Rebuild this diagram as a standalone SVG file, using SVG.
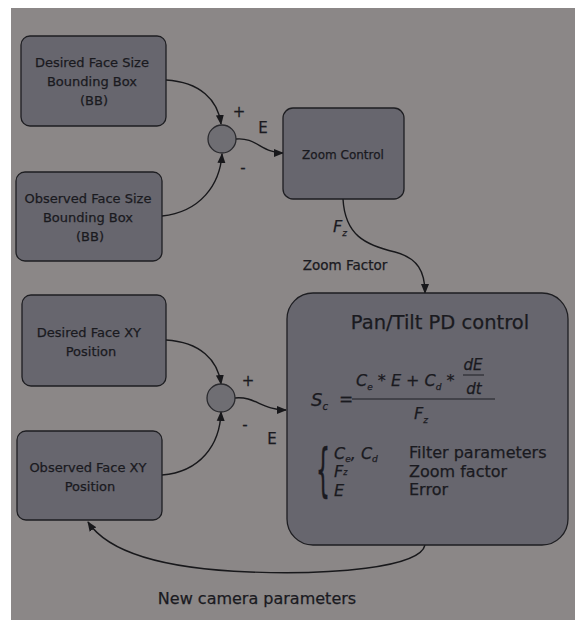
<svg xmlns="http://www.w3.org/2000/svg" width="575" height="620" viewBox="0 0 575 620">
  <style>
    .box { fill: #67666e; stroke: #1e1e22; stroke-width: 1.3; }
    .sum { fill: #6f6e73; stroke: #2a2a2e; stroke-width: 1.3; }
    .lbl { font-family: "DejaVu Sans", Verdana, sans-serif; fill: #1a1a1f; stroke: #1a1a1f; stroke-width: 0.25; }
    .math { font-family: "DejaVu Sans", Verdana, sans-serif; font-style: italic; fill: #1a1a1f; stroke: #1a1a1f; stroke-width: 0.25; }
    .edge { fill: none; stroke: #18181b; stroke-width: 1.4; }
  </style>
  <defs>
    <marker id="arrow" markerUnits="userSpaceOnUse" markerWidth="10" markerHeight="10" viewBox="0 0 10 10" refX="9" refY="5" orient="auto">
      <path d="M0,1 L10,5 L0,9 z" fill="#18181b"/>
    </marker>
  </defs>

  <!-- page -->
  <rect x="0" y="0" width="575" height="620" fill="#ffffff"/>
  <rect x="11" y="8" width="564" height="612" fill="#8b8787"/>

  <!-- connectors -->
  <g id="connectors">
    <path class="edge" d="M166,80 C200,82 218,100 221,124" marker-end="url(#arrow)"/>
    <path class="edge" d="M162,216 C200,212 220,185 222,154" marker-end="url(#arrow)"/>
    <path class="edge" d="M236,139 C256,137 262,153 283,153" marker-end="url(#arrow)"/>
    <path class="edge" d="M343,199 C345,235 365,245 395,252 C418,258 425,272 425,293" marker-end="url(#arrow)"/>
    <path class="edge" d="M166,340 C200,342 218,360 221,384" marker-end="url(#arrow)"/>
    <path class="edge" d="M162,475 C200,472 220,445 221,412" marker-end="url(#arrow)"/>
    <path class="edge" d="M235,398 C255,396 262,410 286,410" marker-end="url(#arrow)"/>
    <path class="edge" d="M425,545 C420,568 330,575 250,572 C170,569 110,555 88,522" marker-end="url(#arrow)"/>
  </g>

  <!-- connector labels -->
  <g id="edge-labels">
    <text class="lbl" x="239" y="117" font-size="15" text-anchor="middle">+</text>
    <text class="lbl" x="243" y="173" font-size="15" text-anchor="middle">-</text>
    <text class="lbl" x="263" y="133" font-size="15" text-anchor="middle">E</text>
    <text class="math" x="333" y="232" font-size="16">F<tspan font-size="9" dy="4">z</tspan></text>
    <text class="lbl" x="345" y="270" font-size="13.5" text-anchor="middle">Zoom Factor</text>
    <text class="lbl" x="248" y="386" font-size="15" text-anchor="middle">+</text>
    <text class="lbl" x="245" y="430" font-size="15" text-anchor="middle">-</text>
    <text class="lbl" x="272" y="444" font-size="15" text-anchor="middle">E</text>
    <text class="lbl" x="257" y="604" font-size="16" text-anchor="middle">New camera parameters</text>
  </g>

  <g id="desired-size">
    <rect class="box" x="21" y="36" width="145" height="90" rx="9"/>
    <text class="lbl" font-size="13" text-anchor="middle">
      <tspan x="94" y="67">Desired Face Size</tspan>
      <tspan x="94" y="86">Bounding Box</tspan>
      <tspan x="94" y="105">(BB)</tspan>
    </text>
  </g>

  <g id="observed-size">
    <rect class="box" x="16" y="172" width="146" height="89" rx="9"/>
    <text class="lbl" font-size="13" text-anchor="middle">
      <tspan x="90" y="203">Observed Face Size</tspan>
      <tspan x="90" y="222">Bounding Box</tspan>
      <tspan x="90" y="241">(BB)</tspan>
    </text>
  </g>

  <g id="sum-size">
    <circle class="sum" cx="222" cy="139" r="14"/>
  </g>

  <g id="zoom-control">
    <rect class="box" x="283" y="108" width="121" height="91" rx="10"/>
    <text class="lbl" x="343" y="159" font-size="12" text-anchor="middle">Zoom Control</text>
  </g>

  <g id="desired-xy">
    <rect class="box" x="22" y="295" width="144" height="91" rx="9"/>
    <text class="lbl" font-size="13" text-anchor="middle">
      <tspan x="91" y="337">Desired Face XY</tspan>
      <tspan x="91" y="356">Position</tspan>
    </text>
  </g>

  <g id="observed-xy">
    <rect class="box" x="17" y="431" width="145" height="89" rx="9"/>
    <text class="lbl" font-size="13" text-anchor="middle">
      <tspan x="90" y="472">Observed Face XY</tspan>
      <tspan x="90" y="491">Position</tspan>
    </text>
  </g>

  <g id="sum-xy">
    <circle class="sum" cx="221" cy="398" r="14"/>
  </g>

  <g id="pan-tilt">
    <rect class="box" x="287" y="293" width="281" height="252" rx="26"/>
    <text class="lbl" x="440" y="329" font-size="19.5" text-anchor="middle">Pan/Tilt PD control</text>
    <!-- control law -->
    <text class="math" x="311" y="406" font-size="18">S<tspan font-size="10" dy="4">c</tspan></text>
    <text class="lbl" x="339" y="405" font-size="17">=</text>
    <text class="math" x="356" y="386" font-size="16">C<tspan font-size="9" dy="4">e</tspan><tspan dy="-4"> * E + C</tspan><tspan font-size="9" dy="4">d</tspan><tspan dy="-4"> *</tspan></text>
    <text class="math" x="473" y="370" font-size="15" text-anchor="middle">dE</text>
    <line x1="463" y1="375" x2="484" y2="375" stroke="#1f1f24" stroke-width="1"/>
    <text class="math" x="474" y="394" font-size="15" text-anchor="middle">dt</text>
    <line x1="352" y1="399" x2="495" y2="399" stroke="#1f1f24" stroke-width="1.2"/>
    <text class="math" x="414" y="419" font-size="16">F<tspan font-size="9" dy="4">z</tspan></text>
    <!-- symbol legend -->
    <text class="lbl" x="316" y="472" font-size="22" transform="translate(0,-738) scale(1,2.6)">{</text>
    <text class="math" x="334" y="459" font-size="16">C<tspan font-size="9" dy="3">e</tspan><tspan dy="-3">, C</tspan><tspan font-size="9" dy="3">d</tspan></text>
    <text class="math" x="334" y="477" font-size="16">F<tspan font-size="8" dy="-2">z</tspan></text>
    <text class="math" x="334" y="496" font-size="16">E</text>
    <text class="lbl" x="409" y="458" font-size="16">Filter parameters</text>
    <text class="lbl" x="409" y="477" font-size="16">Zoom factor</text>
    <text class="lbl" x="409" y="495" font-size="16">Error</text>
  </g>
</svg>
